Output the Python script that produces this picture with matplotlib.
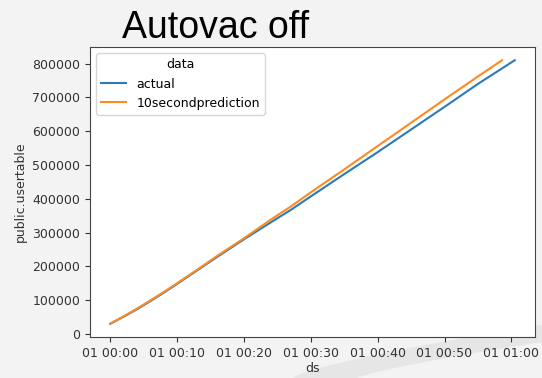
import numpy as np
import pandas as pd
import matplotlib
matplotlib.use("Agg")
import matplotlib.pyplot as plt
import matplotlib.dates as mdates
from matplotlib.patches import Polygon

# minutes after 01 00:00 and row counts
actual_min = [0, 2, 4, 6, 8, 10, 13, 16, 20, 24, 27, 30, 35, 40, 45, 50, 55, 60.5]
actual_val = [30000, 51000, 73000, 97000, 122000, 148000, 188000, 228000, 280000,
              330000, 367000, 407000, 473000, 538000, 605000, 672000, 740000, 810000]

pred_min = [0, 2, 4, 6, 8, 10, 13, 16, 20, 24, 27, 30, 35, 40, 45, 50, 55, 58.6]
pred_val = [30000, 52000, 75000, 99000, 124000, 150000, 190000, 231000, 283000,
            338000, 377000, 419000, 487000, 556000, 625000, 694000, 762000, 810000]

start = pd.Timestamp("2021-01-01 00:00:00")


def to_times(mins):
    return [start + pd.Timedelta(minutes=m) for m in mins]


def main():
    fig = plt.figure(figsize=(5.42, 3.78), dpi=100, facecolor="#f3f3f3")

    # faint slide swoosh in the lower right, kept behind the axes
    t = np.linspace(0, 1, 50)
    outer = np.column_stack([0.54 + 0.46 * t, 0.14 * t ** 0.75])
    inner = np.column_stack([0.66 + 0.34 * t[::-1], 0.095 * t[::-1] ** 0.8])
    fig.patches.append(Polygon(np.vstack([outer, inner]), closed=True,
                               transform=fig.transFigure, facecolor="#e6e6e6",
                               edgecolor="none", zorder=-5))

    fig.text(0.397, 0.927, "Autovac off", fontsize=27, family="Liberation Sans",
             ha="center", va="center", color="black")

    ax = fig.add_axes([0.166, 0.1085, 0.821, 0.767])
    ax.set_zorder(2)
    ax.set_facecolor("white")
    ax.plot(to_times(actual_min), actual_val, color="#2b7bba", lw=1.5, label="actual")
    ax.plot(to_times(pred_min), pred_val, color="#ff8a1f", lw=1.5,
            label="10secondprediction")

    ax.xaxis.set_major_locator(mdates.MinuteLocator(byminute=range(0, 60, 10)))
    ax.xaxis.set_major_formatter(mdates.DateFormatter("%d %H:%M"))
    ax.set_yticks(np.arange(0, 800001, 100000))
    ax.ticklabel_format(axis="y", style="plain")
    ax.tick_params(labelsize=9, colors="#333333", length=3.5)
    for s in ax.spines.values():
        s.set_color("#444444")

    ax.set_xlabel("ds", fontsize=9, color="#333333", labelpad=2)
    ax.set_ylabel("public.usertable", fontsize=9, color="#333333")
    leg = ax.legend(title="data", loc="upper left", fontsize=9, title_fontsize=9)
    leg.get_frame().set_edgecolor("#cccccc")

    plt.savefig("out.png", dpi=100, facecolor=fig.get_facecolor())


if __name__ == '__main__':
    main()
